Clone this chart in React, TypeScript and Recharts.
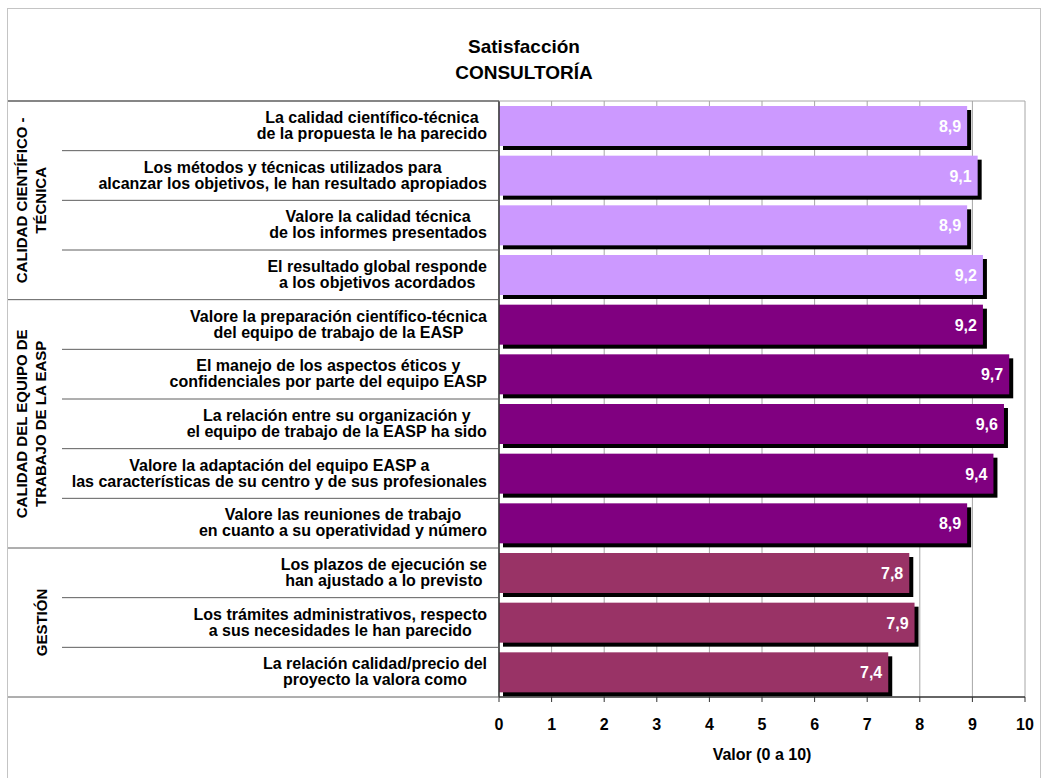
import React from 'react';
import { BarChart, Bar, Cell, XAxis, YAxis, CartesianGrid } from 'recharts';

// ---------- data ----------
const categories = [
  'La calidad científico-técnica\nde la propuesta le ha parecido',
  'Los métodos y técnicas utilizados para\nalcanzar los objetivos, le han resultado apropiados',
  'Valore la calidad técnica\nde los informes presentados',
  'El resultado global responde\na los objetivos acordados',
  'Valore la preparación científico-técnica\ndel equipo de trabajo de la EASP',
  'El manejo de los aspectos éticos y\nconfidenciales por parte del equipo EASP',
  'La relación entre su organización y\nel equipo de trabajo de la EASP ha sido',
  'Valore la adaptación del equipo EASP a\nlas características de su centro y de sus profesionales',
  'Valore las reuniones de trabajo\nen cuanto a su operatividad y número',
  'Los plazos de ejecución se\nhan ajustado a lo previsto',
  'Los trámites administrativos, respecto\na sus necesidades le han parecido',
  'La relación calidad/precio del\nproyecto la valora como',
];

const values = [8.9, 9.1, 8.9, 9.2, 9.2, 9.7, 9.6, 9.4, 8.9, 7.8, 7.9, 7.4];

const groupNames = [
  ['CALIDAD CIENTÍFICO -', 'TÉCNICA'],
  ['CALIDAD DEL EQUIPO DE', 'TRABAJO DE LA EASP'],
  ['GESTIÓN'],
];
const groupSizes = [4, 5, 3];
const groupColors = ['#CC99FF', '#800080', '#993366'];

const xTicks = [0, 1, 2, 3, 4, 5, 6, 7, 8, 9, 10];

// ---------- layout ----------
const WIDTH = 1041;
const HEIGHT = 778;
const MARGIN = { top: 101, right: 16, bottom: 21, left: 0 };
const Y_AXIS_WIDTH = 499;
const X_AXIS_HEIGHT = 60;
const PLOT_RIGHT = WIDTH - MARGIN.right;
const PLOT_HEIGHT = HEIGHT - MARGIN.top - MARGIN.bottom - X_AXIS_HEIGHT;
const TABLE_LEFT = 8;
const INNER_LEFT = 62;
const FONT = '"Liberation Sans", Arial, Helvetica, sans-serif';
const TABLE_LINE = '#5e5e5e';
const GRID_LINE = '#a6a6a6';

// group index / position of each category
const groupOf: number[] = [];
const groupStart: number[] = [];
groupSizes.forEach((n, g) => {
  groupStart.push(groupOf.length);
  for (let i = 0; i < n; i++) groupOf.push(g);
});

const data = categories.map((label, i) => ({
  label,
  value: values[i],
  color: groupColors[groupOf[i]],
}));

let measureCtx: CanvasRenderingContext2D | null = null;
function textWidth(s: string, font: string) {
  if (!measureCtx && typeof document !== 'undefined') {
    measureCtx = document.createElement('canvas').getContext('2d');
  }
  if (!measureCtx) return s.length * 8;
  measureCtx.font = font;
  return measureCtx.measureText(s).width;
}

function CategoryTick(props: any) {
  const { y, payload } = props;
  const i: number = payload.index ?? 0;
  const half: number = payload.offset || PLOT_HEIGHT / categories.length / 2;
  const top = y - half;
  const bottom = y + half;
  const lines = String(payload.value).split('\n');
  const w = Math.max(...lines.map((l) => textWidth(l, `bold 16px ${FONT}`)));
  const cx = Y_AXIS_WIDTH - 12 - w / 2;

  const g = groupOf[i];
  const lastInGroup = i === groupStart[g] + groupSizes[g] - 1;
  const firstInGroup = i === groupStart[g];

  return (
    <g>
      {i === 0 && (
        <>
          <line x1={TABLE_LEFT} x2={Y_AXIS_WIDTH} y1={top} y2={top} stroke={TABLE_LINE} strokeWidth={1.5} />
          <line x1={Y_AXIS_WIDTH} x2={PLOT_RIGHT} y1={top} y2={top} stroke={GRID_LINE} />
        </>
      )}
      <line
        x1={lastInGroup ? TABLE_LEFT : INNER_LEFT}
        x2={Y_AXIS_WIDTH}
        y1={bottom}
        y2={bottom}
        stroke={TABLE_LINE}
      />
      <text
        x={cx}
        y={y}
        textAnchor="middle"
        fontFamily={FONT}
        fontSize={16}
        fontWeight="bold"
        fill="#000"
      >
        <tspan x={cx} dy={-3}>{lines[0]}</tspan>
        {lines[1] && <tspan x={cx} dy={16}>{lines[1]}</tspan>}
      </text>
      {firstInGroup &&
        (() => {
          const gy = top + groupSizes[g] * half;
          const names = groupNames[g];
          return names.map((name, k) => {
            const gx = 41 - (names.length - 1 - k) * 19;
            return (
              <text
                key={k}
                x={gx}
                y={gy}
                transform={`rotate(-90 ${gx} ${gy})`}
                textAnchor="middle"
                dominantBaseline="central"
                fontFamily={FONT}
                fontSize={15}
                fontWeight="bold"
                fill="#000"
              >
                {name}
              </text>
            );
          });
        })()}
    </g>
  );
}

function ShadowBar(props: any) {
  const { x, y, width, height, fill } = props;
  if (!width || width <= 0) return null;
  return (
    <g>
      <rect x={x + 4} y={y + 4} width={width} height={height} fill="#000" />
      <rect x={x} y={y} width={width} height={height} fill={fill} />
    </g>
  );
}

function ValueLabel(props: any) {
  const { x, y, width, height, value } = props;
  return (
    <text
      x={x + width - 6}
      y={y + height / 2 + 6}
      textAnchor="end"
      fontFamily={FONT}
      fontSize={16}
      fontWeight="bold"
      fill="#fff"
    >
      {Number(value).toFixed(1).replace('.', ',')}
    </text>
  );
}

function AxisTitle(props: any) {
  const { viewBox } = props;
  const cx = viewBox.x + viewBox.width / 2;
  return (
    <text
      x={cx}
      y={viewBox.y + 63}
      textAnchor="middle"
      fontFamily={FONT}
      fontSize={16}
      fontWeight="bold"
      fill="#000"
    >
      Valor (0 a 10)
    </text>
  );
}

export default function App() {
  return (
    <div
      style={{
        position: 'absolute',
        left: 0,
        top: 0,
        width: WIDTH,
        height: HEIGHT,
        background: '#fff',
        overflow: 'hidden',
        fontFamily: FONT,
      }}
    >
      <div
        style={{
          position: 'absolute',
          left: 7,
          top: 8,
          width: 1034,
          height: 800,
          border: '1px solid #c4c4c4',
          boxSizing: 'border-box',
        }}
      />
      <div
        style={{
          position: 'absolute',
          left: 7,
          top: 34,
          width: 1034,
          textAlign: 'center',
          fontSize: 19,
          lineHeight: '26px',
          fontWeight: 'bold',
          color: '#000',
        }}
      >
        Satisfacción
        <br />
        CONSULTORÍA
      </div>
      <div style={{ position: 'absolute', left: 0, top: 0 }}>
        <BarChart
          width={WIDTH}
          height={HEIGHT}
          data={data}
          layout="vertical"
          margin={MARGIN}
        >
          <CartesianGrid horizontal={false} stroke={GRID_LINE} />
          <XAxis
            type="number"
            domain={[0, 10]}
            ticks={xTicks}
            interval={0}
            height={X_AXIS_HEIGHT}
            axisLine={{ stroke: '#333', strokeWidth: 1.5 }}
            tickLine={{ stroke: '#333' }}
            tickSize={5}
            tickMargin={17}
            tick={{ fontFamily: FONT, fontSize: 16, fontWeight: 'bold', fill: '#000' }}
            label={<AxisTitle />}
          />
          <YAxis
            type="category"
            dataKey="label"
            width={Y_AXIS_WIDTH}
            interval={0}
            axisLine={{ stroke: '#333', strokeWidth: 1.5 }}
            tickLine={false}
            tick={<CategoryTick />}
          />
          <Bar
            dataKey="value"
            barSize={40}
            isAnimationActive={false}
            shape={<ShadowBar />}
            label={<ValueLabel />}
          >
            {data.map((d, i) => (
              <Cell key={i} fill={d.color} />
            ))}
          </Bar>
        </BarChart>
      </div>
    </div>
  );
}
